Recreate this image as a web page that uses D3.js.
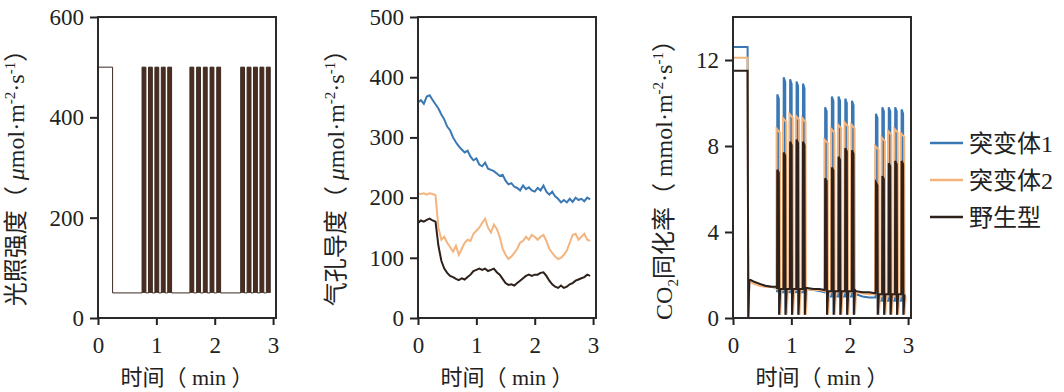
<!DOCTYPE html>
<html lang="zh">
<head>
<meta charset="utf-8">
<script src="https://d3js.org/d3.v7.min.js"></script>
<style>
  body { margin: 0; background: #fff; }
  text { font-family: "Liberation Serif", "Noto Sans CJK SC", serif; fill: #222; }
</style>
</head>
<body>
<svg id="chart" width="1064" height="392"></svg>
<script>
// ---- data ----
var timeTicks = [0, 1, 2, 3];
var lightTicks = [0, 200, 400, 600];
var gsTicks = [0, 100, 200, 300, 400, 500];
var co2Ticks = [0, 4, 8, 12];

var seriesNames = ["突变体1", "突变体2", "野生型"];
var seriesColors = ["#3a78b4", "#f4b47e", "#2e201a"];

// light regime: high light at start, then low light with light flecks
var lightHigh = 500, lightLow = 50, lightInitEnd = 0.25;
var pulseOn = [0.755, 0.865, 0.975, 1.085, 1.195,
               1.575, 1.690, 1.805, 1.920, 2.035,
               2.445, 2.555, 2.665, 2.775, 2.885];
var pulseLen = 0.066;

// stomatal conductance, sampled every 0.05 min
var gsStep = 0.05;
var gsMut1 = [358, 362, 356, 368, 370, 362, 355, 348, 338, 330, 318, 312, 300, 292, 285, 280, 275, 278, 268, 262,
              265, 255, 252, 258, 248, 246, 244, 240, 236, 238, 228, 222, 224, 218, 216, 212, 220, 214, 217, 212,
              210, 216, 212, 220, 210, 205, 210, 202, 198, 192, 196, 192, 198, 193, 200, 196, 198, 194, 200, 197];
var gsMut2 = [207, 206, 207, 205, 207, 206, 204, 150, 130, 135, 125, 118, 110, 120, 105, 115, 125, 130, 128, 140,
              145, 150, 158, 165, 150, 142, 155, 148, 135, 115, 105, 98, 102, 108, 115, 125, 128, 135, 130, 138,
              135, 130, 135, 138, 128, 115, 108, 102, 98, 100, 105, 112, 125, 138, 140, 130, 135, 140, 130, 128];
var gsWT = [158, 162, 160, 163, 165, 162, 160, 120, 95, 82, 75, 70, 68, 65, 63, 66, 64, 68, 72, 78,
            80, 82, 80, 82, 78, 80, 82, 76, 72, 65, 58, 55, 56, 54, 58, 62, 66, 70, 72, 70,
            72, 72, 75, 76, 70, 62, 56, 52, 50, 54, 50, 52, 56, 58, 62, 64, 66, 68, 72, 70];

// CO2 assimilation
var co2Start = [12.6, 12.1, 11.5];
var co2GapT = [[0.28, 0.35, 0.45, 0.55, 0.65, 0.75],
               [1.27, 1.38, 1.48, 1.57],
               [2.11, 2.22, 2.33, 2.44]];
var co2GapMut1 = [[1.75, 1.65, 1.55, 1.5, 1.45, 1.4], [1.35, 1.3, 1.25, 1.2], [1.1, 1.0, 0.95, 0.95]];
var co2GapMut2 = [[1.7, 1.6, 1.5, 1.45, 1.45, 1.4], [1.35, 1.3, 1.3, 1.25], [1.2, 1.15, 1.1, 1.1]];
var co2GapWT = [[1.8, 1.7, 1.6, 1.5, 1.45, 1.45], [1.4, 1.35, 1.35, 1.3], [1.25, 1.2, 1.2, 1.15]];
var co2PeakMut1 = [10.4, 11.2, 11.1, 11.0, 10.9, 9.8, 10.3, 10.3, 10.2, 10.1, 9.5, 9.8, 9.8, 9.8, 9.7];
var co2PeakMut2 = [8.8, 9.3, 9.5, 9.4, 9.3, 8.3, 8.8, 9.0, 9.1, 9.0, 8.0, 8.4, 8.7, 8.8, 8.6];
var co2PeakWT = [6.9, 7.7, 8.2, 8.3, 8.2, 6.5, 7.0, 7.5, 7.9, 7.8, 6.3, 6.6, 7.2, 7.3, 7.3];
var co2RecMut1 = [1.2, 1.2, 1.2, 1.2, 1.3, 1.0, 1.0, 1.0, 1.0, 1.1, 0.8, 0.8, 0.8, 0.8, 0.9];
var co2RecMut2 = [1.3, 1.3, 1.3, 1.3, 1.35, 1.2, 1.2, 1.2, 1.2, 1.2, 1.0, 1.0, 1.0, 1.0, 1.0];
var co2RecWT = [1.35, 1.35, 1.35, 1.35, 1.4, 1.25, 1.25, 1.25, 1.25, 1.3, 1.1, 1.1, 1.1, 1.1, 1.1];

// ---- layout ----
var svg = d3.select("#chart");
var plotTop = 17, plotBottom = 318, boxW = 178;
var panelLeft = [98, 418, 733];

function panel(i, yMax, ticks) {
  var x = d3.scaleLinear().domain([0, 3.05]).range([panelLeft[i], panelLeft[i] + boxW]);
  var y = d3.scaleLinear().domain([0, yMax]).range([plotBottom, plotTop]);
  var g = svg.append("g");
  g.append("g").attr("transform", "translate(0," + plotBottom + ")")
    .call(d3.axisBottom(x).tickValues(timeTicks).tickSize(7).tickPadding(12).tickFormat(d3.format("d")))
    .call(fixAxis);
  g.append("g").attr("transform", "translate(" + panelLeft[i] + ",0)")
    .call(d3.axisLeft(y).tickValues(ticks).tickSize(8).tickPadding(6).tickFormat(d3.format("d")))
    .call(fixAxis);
  g.append("text").attr("x", panelLeft[i] + boxW / 2).attr("y", 385)
    .attr("text-anchor", "middle").style("font-size", "22px").text("时间（ min ）");
  return { g: g, x: x, y: y, i: i };
}

function fixAxis(a) {
  a.select(".domain").remove();
  a.selectAll(".tick line").attr("stroke", "#222").attr("stroke-width", 2);
  a.selectAll(".tick text").style("font-size", "23px").attr("fill", "#222");
}

function frame(p) {
  p.g.append("rect").attr("x", panelLeft[p.i]).attr("y", plotTop)
    .attr("width", boxW).attr("height", plotBottom - plotTop)
    .attr("fill", "none").attr("stroke", "#2a2a2a").attr("stroke-width", 2);
}

function yTitle(cx, cy, parts) {
  var t = svg.append("text").attr("transform", "translate(" + cx + "," + cy + ") rotate(-90)")
    .attr("text-anchor", "middle").style("font-size", "24px");
  parts.forEach(function (p) {
    var s = t.append("tspan").text(p.t);
    if (p.it) s.style("font-style", "italic");
    if (p.sup) s.attr("dy", -9).style("font-size", "15px");
    if (p.sub) s.attr("dy", 6).style("font-size", "15px");
    if (p.back) s.attr("dy", p.back);
  });
}

var unitParts = function (pre) {
  return [{ t: "（ " }, { t: pre[0], it: pre[1] }, { t: pre[2] },
          { t: "-2", sup: true }, { t: "·s", back: 9 }, { t: "-1", sup: true }, { t: "）", back: 9 }];
};

// ---- panel 1: light ----
var p1 = panel(0, 600, lightTicks);
p1.g.selectAll("rect.pulse").data(pulseOn).join("rect").attr("class", "pulse")
  .attr("x", function (d) { return p1.x(d); })
  .attr("width", function (d) { return p1.x(d + pulseLen) - p1.x(d); })
  .attr("y", p1.y(lightHigh)).attr("height", p1.y(lightLow) - p1.y(lightHigh))
  .attr("fill", "#4a2d1f");
var lightPts = [[0, lightHigh], [lightInitEnd, lightHigh], [lightInitEnd, lightLow]];
pulseOn.forEach(function (d) {
  lightPts.push([d, lightLow], [d, lightHigh], [d + pulseLen, lightHigh], [d + pulseLen, lightLow]);
});
p1.g.append("path").datum(lightPts).attr("fill", "none").attr("stroke", "#3a2a22").attr("stroke-width", 1)
  .attr("d", d3.line().x(function (d) { return p1.x(d[0]); }).y(function (d) { return p1.y(d[1]); }));
frame(p1);
yTitle(24, 172, [{ t: "光照强度" }].concat(unitParts(["μ", true, "mol·m"])));

// ---- panel 2: stomatal conductance ----
var p2 = panel(1, 500, gsTicks);
[gsMut1, gsMut2, gsWT].forEach(function (vals, k) {
  p2.g.append("path").datum(vals).attr("fill", "none")
    .attr("stroke", seriesColors[k]).attr("stroke-width", 2)
    .attr("d", d3.line().x(function (d, j) { return p2.x(j * gsStep); }).y(function (d) { return p2.y(d); }));
});
frame(p2);
yTitle(344, 172, [{ t: "气孔导度" }].concat(unitParts(["μ", true, "mol·m"])));

// ---- panel 3: CO2 assimilation ----
var p3 = panel(2, 14, co2Ticks);
var co2Sets = [
  { start: co2Start[0], gap: co2GapMut1, peak: co2PeakMut1, rec: co2RecMut1, w: 0.03, lead: 0 },
  { start: co2Start[1], gap: co2GapMut2, peak: co2PeakMut2, rec: co2RecMut2, w: 0.06, lead: 0.012 },
  { start: co2Start[2], gap: co2GapWT, peak: co2PeakWT, rec: co2RecWT, w: 0.03, lead: 0 }
];
co2Sets.forEach(function (s, k) {
  var pts = [[0, s.start], [0.25, s.start], [0.262, 0.05]];
  co2GapT[0].forEach(function (t, j) { pts.push([t, s.gap[0][j]]); });
  pulseOn.forEach(function (on, j) {
    var grp = Math.floor(j / 5);
    var o = on - s.lead;
    pts.push([o, s.rec[Math.max(j - 1, 0)]], [o + 0.004, s.peak[j]], [o + s.w, s.peak[j] * 0.98],
             [o + s.w + 0.006, 0.15], [o + s.w + 0.025, s.rec[j]]);
    if (j % 5 === 4 && grp < 2) {
      co2GapT[grp + 1].forEach(function (t, m) { pts.push([t, s.gap[grp + 1][m]]); });
    }
  });
  p3.g.append("path").datum(pts).attr("fill", "none")
    .attr("stroke", seriesColors[k]).attr("stroke-width", k === 1 ? 2 : 2)
    .attr("d", d3.line().x(function (d) { return p3.x(Math.min(d[0], 3.0)); }).y(function (d) { return p3.y(d[1]); }));
});
frame(p3);
yTitle(672, 174, [{ t: "CO" }, { t: "2", sub: true }, { t: "同化率", back: -6 }].concat(unitParts(["mmol·m", false, ""])));

// ---- legend ----
var lg = svg.append("g");
seriesNames.forEach(function (n, k) {
  var yy = 143 + k * 37;
  lg.append("line").attr("x1", 930).attr("x2", 963).attr("y1", yy).attr("y2", yy)
    .attr("stroke", seriesColors[k]).attr("stroke-width", 2.5);
  lg.append("text").attr("x", 969).attr("y", yy + 9).style("font-size", "24px").text(n);
});
</script>
</body>
</html>
